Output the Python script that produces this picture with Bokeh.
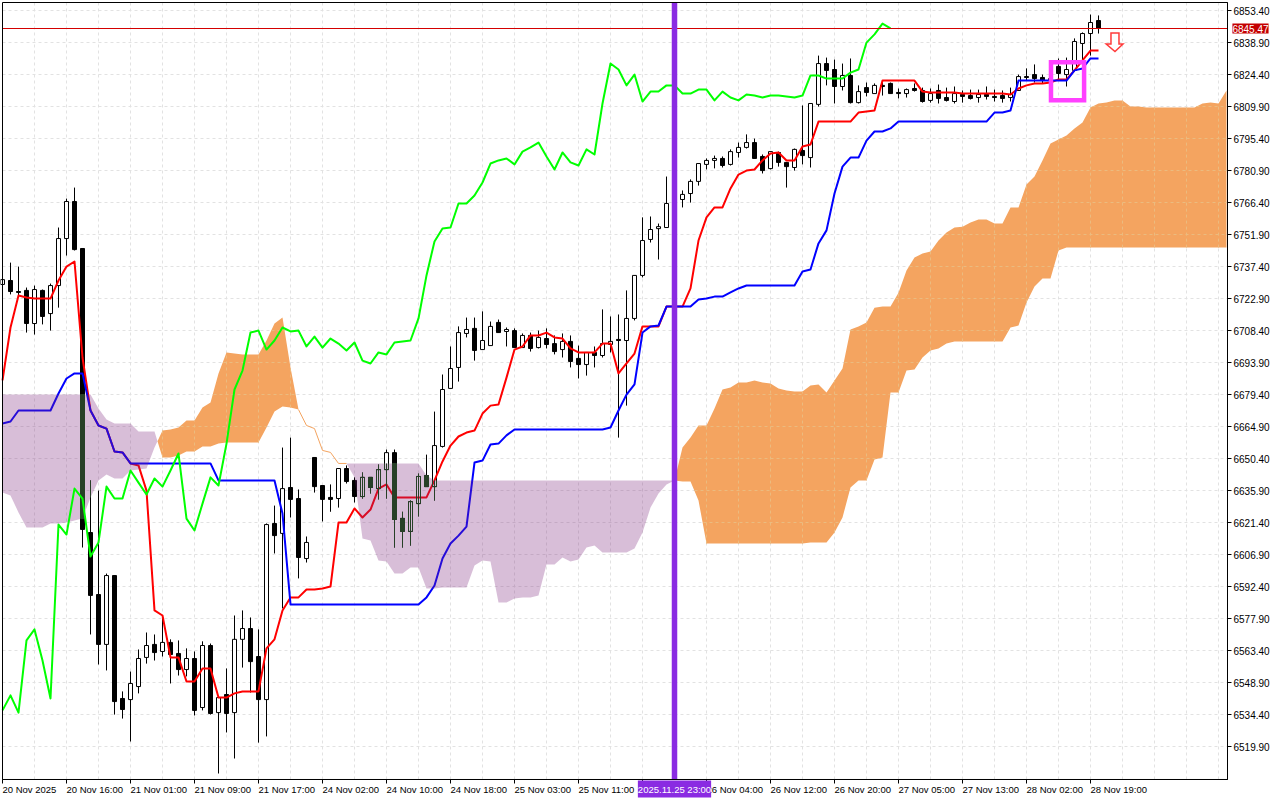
import numpy as np
from bokeh.embed import file_html
from bokeh.resources import INLINE
from bokeh.plotting import figure
from bokeh.models import FixedTicker, Label, NumeralTickFormatter

open_prices = [6729.4,6731.2,6726.2,6726.7,6711.7,6726.7,6716.2,6728.9,6750.2,6767.0,6745.7,6617.0,6588.9,6566.3,6597.5,6541.8,6541.3,6547.2,6560.4,6566.3,
6563.1,6567.2,6562.2,6554.9,6559.9,6537.7,6565.8,6535.4,6543.6,6535.4,6568.6,6573.5,6560.8,6541.3,6621.1,6616.6,6637.4,6632.4,6605.2,6651.0,
6638.3,6632.9,6632.4,6646.0,6640.6,6633.3,6642.0,6636.9,6645.5,6653.2,6623.4,6617.5,6630.1,6642.8,6637.8,6656.0,6682.3,6691.8,6707.2,6709.5,
6699.9,6701.7,6712.2,6708.1,6708.5,6700.8,6706.3,6700.8,6704.9,6702.6,6699.9,6703.6,6695.9,6693.1,6698.6,6697.2,6702.2,6704.5,6704.0,6714.0,
6733.5,6749.8,6754.7,6755.2,6765.2,6767.9,6770.6,6776.1,6783.8,6785.6,6786.5,6783.8,6789.2,6791.5,6793.7,6787.4,6781.9,6789.2,6784.7,6782.4,
6790.1,6786.9,6811.0,6829.5,6826.8,6819.1,6824.1,6811.8,6818.6,6815.9,6819.6,6820.5,6816.4,6815.9,6818.2,6817.3,6812.8,6817.3,6814.1,6812.3,
6815.5,6815.0,6814.1,6815.5,6814.6,6815.0,6814.1,6817.3,6823.6,6824.5,6823.2,6821.8,6828.2,6824.5,6826.4,6838.6,6843.1,6849.0]

close_prices = [6731.6,6726.2,6725.8,6711.7,6727.1,6714.9,6728.9,6750.2,6767.0,6745.2,6618.4,6588.5,6566.3,6597.5,6540.4,6536.8,6548.6,6559.9,6565.8,6562.6,
6567.2,6561.7,6554.9,6559.9,6536.4,6565.8,6535.0,6542.2,6535.0,6568.6,6573.5,6558.5,6541.3,6620.6,6615.6,6636.9,6632.0,6605.7,6612.5,6637.8,
6632.0,6632.0,6646.0,6640.1,6633.3,6642.0,6637.4,6645.5,6653.2,6622.9,6617.5,6631.0,6642.4,6637.8,6656.4,6681.8,6691.3,6707.6,6709.0,6699.5,
6704.0,6710.4,6707.6,6709.0,6700.8,6706.3,6700.4,6705.4,6702.2,6699.0,6703.6,6694.5,6693.1,6698.6,6697.2,6702.6,6703.6,6704.0,6714.0,6733.5,
6749.3,6754.3,6755.6,6766.1,6767.4,6770.2,6776.1,6784.2,6785.6,6786.5,6783.3,6789.6,6791.5,6793.7,6786.5,6781.0,6789.6,6784.7,6782.8,6790.6,
6787.8,6811.4,6829.5,6826.4,6819.1,6824.1,6811.8,6816.8,6816.4,6819.6,6819.1,6815.9,6815.9,6817.7,6817.3,6812.3,6815.9,6813.7,6812.8,6815.9,
6814.6,6813.7,6815.5,6814.6,6814.1,6813.7,6815.5,6823.6,6823.2,6822.7,6821.8,6822.7,6825.0,6826.8,6839.5,6843.1,6848.1,6845.47]

high_prices = [6738.4,6739.3,6737.5,6728.0,6728.9,6727.1,6729.8,6755.2,6768.3,6773.3,6745.7,6640.6,6636.0,6598.4,6597.5,6545.0,6554.0,6564.0,6571.7,6570.8,
6578.5,6568.6,6568.1,6564.5,6563.1,6567.7,6566.7,6542.2,6555.4,6579.4,6581.7,6578.5,6573.1,6621.1,6629.2,6655.5,6660.0,6636.5,6615.2,6651.0,
6638.3,6638.8,6646.0,6647.4,6642.0,6644.2,6642.0,6647.8,6654.6,6654.6,6626.4,6631.5,6643.7,6652.3,6671.8,6688.6,6701.3,6710.4,6714.4,6714.4,
6717.2,6712.6,6713.5,6709.9,6709.5,6707.2,6707.6,6708.5,6709.5,6706.3,6707.2,6706.3,6701.7,6698.6,6701.3,6718.1,6714.9,6715.8,6726.7,6733.5,
6759.8,6760.2,6757.0,6778.3,6769.7,6772.0,6777.0,6784.2,6786.5,6787.8,6787.4,6790.6,6793.7,6797.4,6795.5,6788.3,6789.6,6789.6,6784.7,6791.0,
6810.5,6811.4,6833.1,6832.2,6831.3,6829.5,6831.8,6819.6,6820.9,6820.5,6821.8,6820.9,6818.2,6818.2,6820.5,6818.6,6818.2,6820.0,6818.6,6819.1,
6817.3,6817.7,6817.7,6819.1,6817.7,6817.3,6818.6,6824.5,6827.3,6829.1,6824.5,6828.6,6831.8,6832.2,6840.9,6843.6,6851.7,6851.3]

low_prices = [6726.7,6724.9,6724.0,6707.6,6706.7,6711.3,6708.5,6718.9,6742.5,6744.8,6610.2,6570.8,6557.2,6554.5,6534.5,6532.7,6522.3,6544.1,6557.6,6559.0,
6560.8,6548.6,6552.2,6551.8,6534.1,6536.4,6534.5,6507.8,6526.4,6514.6,6555.8,6544.5,6521.8,6524.6,6607.5,6582.6,6623.8,6596.2,6603.4,6635.1,
6622.0,6626.4,6628.3,6639.2,6630.6,6632.4,6634.7,6632.0,6632.4,6610.2,6610.2,6611.1,6624.3,6637.8,6631.5,6655.5,6682.3,6685.4,6705.4,6694.9,
6699.9,6701.7,6707.6,6701.3,6700.8,6700.8,6699.0,6700.4,6700.4,6697.7,6696.3,6691.8,6686.8,6688.1,6691.8,6696.3,6698.6,6660.0,6674.5,6713.1,
6732.6,6748.4,6740.7,6755.2,6763.8,6764.3,6766.5,6774.2,6781.5,6782.0,6782.4,6783.3,6786.9,6791.0,6786.5,6779.7,6781.5,6782.8,6773.3,6781.0,
6783.8,6782.4,6810.0,6819.6,6811.4,6817.3,6811.4,6811.4,6814.6,6815.9,6815.0,6815.9,6813.7,6814.1,6816.8,6811.8,6811.8,6811.4,6812.3,6811.4,
6811.8,6813.2,6811.8,6813.2,6812.3,6811.8,6812.3,6817.3,6821.8,6820.9,6820.5,6820.0,6821.8,6819.1,6825.9,6827.3,6833.1,6843.1]

tenkan = [6685.9,6709.9,6724.4,6723.5,6723.0,6723.0,6723.0,6731.2,6737.5,6739.8,6696.3,6672.3,6665.5,6664.1,6653.7,6653.3,6648.3,6647.4,6636.0,6581.7,
6579.4,6560.4,6560.4,6549.5,6549.5,6555.4,6555.4,6542.2,6542.2,6544.1,6545.0,6545.0,6545.0,6564.5,6568.6,6581.7,6587.6,6587.6,6591.2,6591.2,
6591.6,6592.5,6621.5,6621.5,6627.9,6623.8,6627.4,6636.9,6638.8,6632.9,6632.9,6632.9,6632.9,6632.9,6640.6,6649.2,6656.4,6660.5,6662.3,6663.2,
6670.9,6674.5,6675.0,6687.2,6699.9,6701.3,6706.3,6706.3,6707.6,6705.4,6704.9,6700.4,6698.6,6698.6,6698.6,6702.6,6702.6,6689.1,6693.6,6698.1,
6710.4,6710.4,6710.4,6719.4,6719.4,6719.4,6727.6,6749.3,6759.8,6764.3,6764.3,6772.9,6779.2,6781.0,6781.5,6785.6,6788.7,6789.2,6785.6,6785.6,
6791.9,6792.8,6803.2,6803.2,6803.2,6803.2,6803.2,6807.3,6807.8,6808.2,6821.8,6821.8,6821.8,6821.8,6821.8,6816.8,6816.4,6816.4,6816.4,6816.4,
6815.9,6815.9,6815.9,6815.9,6815.9,6815.9,6815.5,6818.2,6819.6,6820.5,6820.5,6820.9,6822.3,6822.3,6826.4,6830.9,6835.4,6835.4]

kijun = [6666.4,6667.3,6672.3,6672.3,6672.3,6672.3,6672.3,6680.0,6686.8,6689.1,6689.1,6672.3,6665.5,6664.1,6653.7,6653.3,6648.3,6648.3,6648.3,6648.3,
6648.3,6648.3,6648.3,6648.3,6648.3,6648.3,6648.3,6640.6,6640.6,6640.6,6640.6,6640.6,6640.6,6640.6,6640.6,6625.6,6584.4,6584.4,6584.4,6584.4,
6584.4,6584.4,6584.4,6584.4,6584.4,6584.4,6584.4,6584.4,6584.4,6584.4,6584.4,6584.4,6584.4,6587.6,6593.0,6605.2,6612.0,6615.6,6619.7,6648.7,
6649.6,6656.9,6657.3,6661.0,6663.7,6663.7,6663.7,6663.7,6663.7,6663.7,6663.7,6663.7,6663.7,6663.7,6663.7,6663.7,6664.6,6672.3,6679.5,6684.1,
6707.6,6710.4,6710.8,6719.4,6719.4,6719.4,6719.4,6722.6,6723.0,6723.9,6723.9,6725.8,6727.6,6728.9,6728.9,6728.9,6728.9,6728.9,6728.9,6728.9,
6735.3,6736.2,6748.0,6753.9,6770.6,6782.8,6786.9,6786.9,6794.6,6798.7,6798.7,6800.1,6803.2,6803.2,6803.2,6803.2,6803.2,6803.2,6803.2,6803.2,
6803.2,6803.2,6803.2,6803.2,6807.3,6807.3,6808.2,6821.8,6821.8,6821.8,6821.8,6821.8,6821.8,6821.8,6826.4,6827.3,6831.8,6831.8]

chikou = [6536.4,6543.2,6535.4,6568.1,6573.1,6559.0,6541.8,6620.6,6616.1,6636.9,6632.4,6606.1,6612.5,6637.8,6632.4,6632.4,6645.1,6639.6,6634.2,6641.5,
6637.8,6645.1,6652.8,6623.3,6617.9,6630.1,6642.0,6638.3,6657.3,6681.8,6690.4,6707.6,6708.5,6699.9,6704.0,6709.9,6708.1,6708.5,6701.3,6705.8,
6700.8,6704.9,6702.6,6699.5,6703.1,6694.9,6693.6,6698.6,6697.7,6703.1,6703.6,6704.0,6714.0,6733.5,6748.9,6754.8,6755.2,6766.1,6766.1,6769.7,
6775.6,6784.2,6785.6,6786.5,6783.8,6789.6,6791.5,6793.7,6787.4,6781.5,6789.2,6784.7,6783.3,6790.6,6788.3,6811.4,6829.5,6826.8,6819.6,6824.5,
6812.3,6816.8,6816.8,6819.6,6819.6,6815.9,6815.9,6817.7,6817.7,6812.8,6816.8,6814.1,6812.8,6815.5,6815.0,6814.1,6815.0,6815.0,6814.6,6814.1,
6815.0,6824.1,6824.1,6822.7,6822.7,6822.7,6825.4,6826.8,6839.0,6842.7,6847.6,6845.4]

span_a = [6635.1,6633.8,6626.1,6619.3,6619.3,6619.3,6621.1,6621.1,6621.5,6622.4,6623.3,6632.9,6640.6,6643.3,6641.5,6641.5,6645.1,6645.6,6646.0,6655.5,
6663.2,6663.7,6664.6,6667.8,6667.8,6673.6,6675.9,6689.1,6698.6,6698.1,6697.7,6697.7,6697.7,6704.0,6711.7,6714.4,6691.8,
6672.7,6665.5,6664.1,6654.2,6653.3,6648.3,6648.3,
6642.0,6614.3,6613.4,6604.3,6603.9,6598.4,6598.4,6601.2,6601.2,6591.6,6591.6,6592.1,6592.1,6592.1,6592.1,6602.1,6604.3,6603.9,6585.3,6585.3,
6587.1,6587.6,6587.6,6588.5,6602.5,6602.5,6605.7,6603.9,6604.8,6610.2,6611.1,6607.9,6607.9,6607.9,6607.9,6609.8,6617.0,6628.3,6634.7,6638.8,6640.6,
6655.5,6660.0,6665.5,6665.5,6673.2,6681.8,6682.7,6685.0,6685.0,6685.9,6685.0,6684.5,6682.3,6681.4,6680.9,6680.9,6683.6,6684.1,6680.4,6685.9,
6691.3,6709.0,6710.4,6712.2,6718.9,6719.4,6719.4,6725.7,6735.7,6741.6,6743.4,6744.3,6749.3,6752.9,6755.2,6755.6,6757.5,6758.8,6758.8,6757.0,
6757.0,6764.3,6764.3,6774.7,6778.3,6785.6,6793.3,6795.1,6796.9,6800.1,6802.8,6809.6,6811.4,6811.8,6812.8,6812.8,6810.0,6810.0,6809.6,
6809.6,6809.6,6809.6,6809.6,6809.6,6809.6,6811.4,6811.8,6811.4,6817.3]

span_b = ([6679.5]*12 + [6673.2,6668.2,6666.4,6666.4,6666.4,6662.8,6662.8,6662.8] +
[6651.0,6651.0,6651.9,6653.7,6653.7,6656.0,6656.0,6657.3,6657.8,6657.8,6657.8,6657.8,6657.8,6664.6,6671.8,6674.1,6673.6] +
[6672.7,6665.5,6664.1,6654.2,6653.3,6648.3,6648.3] +
[6648.3]*9 + [6642.8] + [6640.6]*31 +
[6640.1,6640.1,6631.5] + [6612.0]*13 + [6612.5]*3 +
[6617.0,6623.8,6637.4,6640.6,6640.6,6650.1,6651.0,6680.4,6680.4,6690.4,6690.9,6696.3,6699.5,6700.4,6702.6] + [6703.6]*7 +
[6709.9,6710.8,6721.2,6728.5,6732.1,6732.1,6744.8] + [6746.1]*21)

price_ticks = [6853.40,6838.90,6824.40,6809.90,6795.40,6780.90,6766.40,6751.90,6737.40,6722.90,6708.40,6693.90,
               6679.40,6664.90,6650.40,6635.90,6621.40,6606.90,6592.40,6577.90,6563.40,6548.90,6534.40,6519.90]
time_labels = {0:"20 Nov 2025",8:"20 Nov 16:00",16:"21 Nov 01:00",24:"21 Nov 09:00",32:"21 Nov 17:00",40:"24 Nov 02:00",
               48:"24 Nov 10:00",56:"24 Nov 18:00",64:"25 Nov 03:00",72:"25 Nov 11:00",80:"",88:"26 Nov 04:00",
               96:"26 Nov 12:00",104:"26 Nov 20:00",112:"27 Nov 05:00",120:"27 Nov 13:00",128:"28 Nov 02:00",136:"28 Nov 19:00"}
last_price = 6845.47
signal_bar = 84
signal_text = "2025.11.25 23:00"
box_bars = (131.06, 135.2)
box_prices = (6812.7, 6829.9)
arrow_bars = [138.56,139.56,139.56,140.06,139.06,137.96,138.56,138.56]
arrow_prices = [6843.2,6843.2,6838.2,6838.2,6834.8,6838.2,6838.2,6843.2]

BLACK, DARK = "#000000", "#274027"
ORANGE, THISTLE_GLAZE = "#f4a460", "#7d297d"
GRID, GRID_ON_ORANGE = "#e2e2e2", "#ebbb7f"
DASH = "3 3"
SNAP = 0.139   # read-off bias of the prices, so that they land on whole pixel rows

# chart edges; the ranges run on past them because the scale areas are painted inside the frame too
LEFT, RIGHT, BOTTOM, TOP = 0.0, 153.125, 6504.947, 6857.025
TEXT_ROW = 6500.6
SCALE_BAR = 156.0

o, c, h, l = (np.array(s) - SNAP for s in (open_prices, close_prices, high_prices, low_prices))
bars = np.arange(len(o))
up = c >= o

p = figure(frame_width=1280, frame_height=800, output_backend="svg", toolbar_location=None,
           x_range=(-0.25, 159.75), y_range=(6495.43125, 6857.93125), y_axis_location="right",
           min_border_left=0, min_border_top=0, min_border_right=0, min_border_bottom=0,
           outline_line_color=None,
           styles={"position": "absolute", "left": "0px", "top": "0px"})

# axes
yax = p.yaxis[0]
yax.fixed_location = RIGHT
yax.bounds = (BOTTOM, TOP)
yax.ticker = FixedTicker(ticks=price_ticks)
yax.formatter = NumeralTickFormatter(format="0.00")
yax.major_label_text_font_size = "10px"
yax.major_label_standoff = 2
xax = p.xaxis[0]
xax.fixed_location = BOTTOM
xax.bounds = (LEFT, RIGHT)
xax.ticker = FixedTicker(ticks=list(time_labels))
xax.major_label_overrides = {k: "" for k in time_labels}
xax.major_label_text_font_size = "0px"
xax.major_label_standoff = 0
for ax in (xax, yax):
    ax.major_label_text_font = "Liberation Sans"
    ax.major_label_text_color = BLACK
    ax.axis_line_color = BLACK
    ax.major_tick_line_color = BLACK
    ax.major_tick_in = 0
    ax.major_tick_out = 4
    ax.minor_tick_line_color = None

# grid, kept to the chart area
grid_bars = list(range(0, 154, 4))
p.xgrid.visible = False
p.ygrid.visible = False
p.multi_line([[k, k] for k in grid_bars] + [[LEFT, RIGHT] for _ in price_ticks],
             [[BOTTOM, TOP] for _ in grid_bars] + [[t, t] for t in price_ticks],
             line_color=GRID, line_width=1, line_dash=DASH)

# candles
p.segment(bars, l, bars, h, line_color=BLACK, line_width=1)
p.vbar(bars, 0.5, np.maximum(o, c), np.minimum(o, c),
       fill_color=["#ffffff" if u else BLACK for u in up], line_color=BLACK, line_width=1)

# tenkan & kijun
p.line(bars, np.array(tenkan) - SNAP, line_color="#ff0000", line_width=2, line_join="round")
p.line(bars, np.array(kijun) - SNAP, line_color="#0000ff", line_width=2, line_join="round")

# cloud, with the crossings of the two spans inserted
a, b = np.array(span_a) - SNAP, np.array(span_b) - SNAP
xs, ya, yb = [], [], []
for i in range(len(a)):
    xs.append(float(i)); ya.append(a[i]); yb.append(b[i])
    if i + 1 < len(a):
        d0, d1 = a[i] - b[i], a[i + 1] - b[i + 1]
        if d0 * d1 < 0:
            t = d0 / (d0 - d1)
            v = a[i] + t * (a[i + 1] - a[i])
            xs.append(i + t); ya.append(v); yb.append(v)
xs, ya, yb = np.array(xs), np.array(ya), np.array(yb)
p.varea(xs, ya, np.maximum(ya, yb), fill_color=THISTLE_GLAZE, fill_alpha=0.3)

# candle parts seen through the purple cloud
wx, w0, w1, bx, bt, bb, sx0, sy0, sx1, sy1 = [], [], [], [], [], [], [], [], [], []
for i in bars:
    if a[i] >= b[i]:
        continue
    lo, hi = a[i], b[i]
    w_lo, w_hi = max(l[i], lo), min(h[i], hi)
    if w_lo < w_hi:
        wx.append(i); w0.append(w_lo); w1.append(w_hi)
    top, bot = max(o[i], c[i]), min(o[i], c[i])
    b_lo, b_hi = max(bot, lo), min(top, hi)
    if b_lo >= b_hi:
        continue
    if up[i]:
        for s in (-0.25, 0.25):
            sx0.append(i + s); sy0.append(b_lo); sx1.append(i + s); sy1.append(b_hi)
        if top <= hi:
            sx0.append(i - 0.25); sy0.append(top); sx1.append(i + 0.25); sy1.append(top)
        if bot >= lo:
            sx0.append(i - 0.25); sy0.append(bot); sx1.append(i + 0.25); sy1.append(bot)
    else:
        bx.append(i); bt.append(b_hi); bb.append(b_lo)
p.segment(wx, w0, wx, w1, line_color=DARK, line_width=1)
p.segment(sx0, sy0, sx1, sy1, line_color=DARK, line_width=1)
p.vbar(bx, 0.5, bt, bb, fill_color=DARK, line_color=DARK, line_width=1)

# orange cloud and the grid seen through it
p.varea(xs, yb, np.maximum(ya, yb), fill_color=ORANGE)
gx, gy = [], []
for k in grid_bars:
    if a[k] > b[k]:
        gx.append([k, k]); gy.append([b[k], a[k]])
dense = np.linspace(0, 153, 153 * 8 + 1)
da, db = np.interp(dense, xs, ya), np.interp(dense, xs, yb)
for level in price_ticks:
    inside = (db < level) & (level < da)
    edges = np.flatnonzero(np.diff(np.r_[0, inside.astype(int), 0]))
    for s, e in zip(edges[::2], edges[1::2]):
        gx.append([dense[s], dense[e - 1]]); gy.append([level, level])
p.multi_line(gx, gy, line_color=GRID_ON_ORANGE, line_width=1, line_dash=DASH)

thin = np.abs(a - b) < 1e-6
thin_bars = np.flatnonzero(thin & (np.arange(len(a)) < 44))
p.line(thin_bars, a[thin_bars], line_color=ORANGE, line_width=1)

# chikou
p.line(np.arange(len(chikou)), np.array(chikou) - SNAP, line_color="#00ff00", line_width=2, line_join="round")

# objects
p.segment(LEFT, last_price - 0.23, RIGHT, last_price - 0.23, line_color="#d40000", line_width=1)
p.segment(signal_bar, BOTTOM, signal_bar, TOP, line_color="#8a2be2", line_width=5.5)
p.quad(left=box_bars[0], right=box_bars[1], bottom=box_prices[0], top=box_prices[1],
       fill_color=None, line_color="#ff40ff", line_width=4.5, line_join="miter")
p.patch(arrow_bars, arrow_prices, fill_color="#ffffff", line_color="#ff3b3b", line_width=1.5, line_join="miter")
p.quad(left=LEFT, right=RIGHT, bottom=BOTTOM, top=TOP, fill_color=None, line_color=BLACK, line_width=1)

# texts of the time scale and the two flags
for bar, text in time_labels.items():
    if text:
        p.add_layout(Label(x=bar, y=TEXT_ROW, text=text, text_align="left", text_baseline="middle",
                           text_font="Liberation Sans", text_font_size="9.5px", text_color=BLACK))
p.add_layout(Label(x=signal_bar, y=TEXT_ROW, text=signal_text, text_align="center", text_baseline="middle",
                   text_font="Liberation Sans", text_font_size="9.5px", text_color="#ffffff",
                   background_fill_color="#8a2be2", padding=(0, 3)))
p.add_layout(Label(x=SCALE_BAR, y=last_price - 0.23, text=f"{last_price:.2f}", text_align="center",
                   text_baseline="middle", text_font="Liberation Sans", text_font_size="10px", text_color="#ffffff",
                   background_fill_color="#c40000", padding=(0, 1)))

open("out.html", "w").write(file_html(p, INLINE))
